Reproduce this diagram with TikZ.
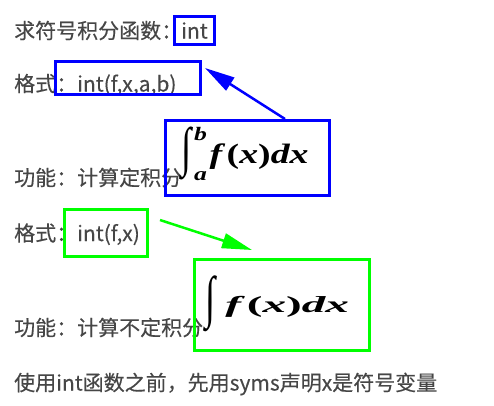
\documentclass[tikz,border=0pt]{standalone}
\usepackage[no-math]{fontspec}
\usepackage{graphicx}
\setmainfont{Noto Sans CJK SC}[FakeBold=0.3]
\newfontfamily\eqfont{Liberation Serif}
\usetikzlibrary{arrows.meta,calc}
\definecolor{txtgray}{RGB}{70,70,70}
\definecolor{boxblue}{RGB}{0,0,255}
\definecolor{boxgreen}{RGB}{0,255,0}
\newcommand{\eqit}[1]{{\eqfont\bfseries\itshape #1}}
\newcommand{\equp}[1]{{\eqfont\bfseries #1}}
\newcommand{\eqbody}{\eqit{f}\hspace{0.12em}\equp{(}\eqit{x}\equp{)}\eqit{dx}}
\newcommand{\bigint}[3]{\raisebox{-#3}{\resizebox*{#1}{#2}{\raisebox{\depth}{\equp{∫}}}}}
\tikzstyle{line} = [anchor=base west, inner sep=0pt, text=txtgray, font=\fontsize{21}{25}\selectfont]
\tikzstyle{bluebox} = [rectangle, draw=boxblue, line width=3pt, inner sep=0pt]
\tikzstyle{greenbox} = [rectangle, draw=boxgreen, line width=3pt, inner sep=0pt]
\tikzstyle{formula} = [anchor=base west, inner sep=0pt, text=black]
\tikzstyle{bluearrow} = [draw=boxblue, line width=2.5pt, -{Triangle[length=30pt,width=15pt]}]
\tikzstyle{greenarrow} = [draw=boxgreen, line width=2.5pt, -{Triangle[length=30pt,width=15pt]}]

\begin{document}
\begin{tikzpicture}[x=1pt,y=-1pt]
\useasboundingbox (0,0) rectangle (494,405);
% text lines
\node(head)[line] at (14,38.5){求符号积分函数：};
\node(fmtdeftext)[line] at (14,91.5){格式：int(f,x,a,b)};
\node(fundef)[line] at (14,185.5){功能：计算定积分};
\node(fmtindeftext)[line] at (14,241){格式：int(f,x)};
\node(funindef)[line] at (14,335.5){功能：计算不定积分};
\node(note)[line] at (14,390.5){使用int函数之前，先用syms声明x是符号变量};

% boxes
\node(intbox)[bluebox, minimum width=40, minimum height=28, text=txtgray, font=\fontsize{21}{25}\selectfont] at (194.5,30.5){int};
\node(fmtdef)[bluebox, minimum width=145, minimum height=33] at (128,78){};
\node(fdef)[bluebox, minimum width=164, minimum height=75] at (247.5,158){};
\node(fmtindef)[greenbox, minimum width=83, minimum height=47] at (106,233){};
\node(findef)[greenbox, minimum width=175, minimum height=91] at (282,305){};

% formulas
\node(fdefeq)[formula] at (181,163){\scalebox{1.35}[1]{\fontsize{28}{34}\selectfont
  \bigint{7.5pt}{53pt}{17pt}\hspace{2pt}%
  \rlap{\raisebox{23pt}{\fontsize{19}{19}\selectfont\eqit{b}}}%
  \raisebox{-17pt}{\fontsize{19}{19}\selectfont\eqit{a}}\hspace{2pt}\eqbody}};
\node(findefeq)[formula] at (205,312){\scalebox{2.05}[1]{\fontsize{23}{28}\selectfont
  \bigint{4.9pt}{56pt}{20pt}\hspace{5pt}\eqbody}};

% arrows
\coordinate(deftip) at ($(fmtdef.north east)+(3,8)$);
\coordinate(indeftip) at ($(findef.north)+(-30,-8)$);
\draw[bluearrow]($(fdef.north)+(37.5,0)$)--(deftip);
\draw[greenarrow]($(fmtindef.north east)+(11,12)$)--(indeftip);
\end{tikzpicture}
\end{document}
